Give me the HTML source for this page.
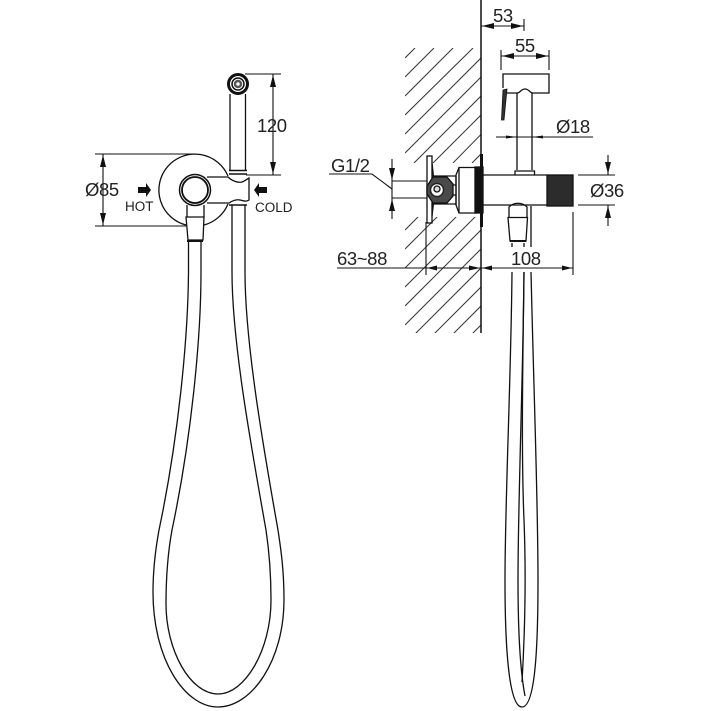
<!DOCTYPE html>
<html><head><meta charset="utf-8"><style>
html,body{margin:0;padding:0;background:#fff}
svg{display:block}
text{font-family:"Liberation Sans",sans-serif;fill:#222;font-size:18.500px;letter-spacing:-0.400px}
.s{font-size:13.500px;letter-spacing:0}
</style></head><body>
<svg width="711" height="711" viewBox="0 0 711 711" xmlns="http://www.w3.org/2000/svg">
<defs>
<clipPath id="h1"><rect x="405" y="48" width="76" height="115"/></clipPath>
<clipPath id="h2"><rect x="405" y="217" width="76" height="116"/></clipPath>
</defs>
<!-- hatch -->
<g stroke="#333" stroke-width="1" fill="none">
<g clip-path="url(#h1)">
<path d="M405 58L415 48M405 77L434 48M405 96L453 48M405 115L473 48M405 134L491 48M405 153L500 58M414 163L500 77M433 163L500 96M453 163L500 115M472 163L500 135"/>
</g>
<g clip-path="url(#h2)">
<path d="M405 230L425 210M405 249L445 209M405 268L465 208M405 287L485 207M405 306L500 211M405 325L500 230M405 344L500 249M417 351L500 268M436 351L500 287M455 351L500 306M473 351L500 325"/>
</g>
</g>
<g fill="none" stroke="#111" stroke-width="1.300">
<!-- left view -->
<circle cx="238" cy="84" r="9.500" stroke-width="3"/>
<circle cx="238" cy="84" r="6" stroke-width="1.500"/>
<circle cx="238" cy="84" r="3" stroke-width="2.500" stroke="#555"/>
<path d="M230 94V170M245.500 94V170"/>
<path d="M229 170.500H247M229 174H247" stroke-width="1.500"/>
<path d="M228 176A36 36 0 1 0 186 225"/>
<path d="M228 204A36 36 0 0 1 204 225"/>
<circle cx="195" cy="190" r="15.500" stroke-width="1.500"/>
<circle cx="195" cy="190" r="13" stroke-width="1.800"/>
<path d="M207 177H228C232 181 238 183 242 182C245 181 247 179 249 178V200C246 202 244 201 240 200C236 199 232 201 229 203H207"/>
<path d="M229 205H247" stroke-width="1.500"/>
<path d="M186 217H204L203 240H188Z"/>
<path d="M187 241H203" stroke-width="2"/>
<path d="M187 205V217M204 205V217"/>
<!-- hose left view -->
<path d="M188.500 241V272C188 340 178 440 159 530C155 552 153 572 153 592C153 660 185 707 218 707C252 707 284 660 284 600C284 570 281 550 278 530C262 440 245 340 245 272V205"/>
<path d="M201 241V272C201 340 191 440 172 530C168 552 166 580 166 604C166 650 190 694 218 694C245 694 271 650 271 600C271 575 269 550 266 530C250 440 232 340 232 272V205"/>
<!-- right view -->
<path d="M481 0V333" stroke-width="1.500"/>
<path d="M503 88V74H549V93H533C530 93 529 89 525 89C521 89 520 93 517 93H506"/>
<path d="M503 90L507 89L504 120H501.500Z" fill="#333" stroke-width="0.800"/>
<path d="M517 93V170M532 93V170"/>
<path d="M515 175V171H534.500V175"/>
<path d="M483 175H547M483 205H547"/>
<rect x="547" y="175" width="26" height="31" fill="#2c2c2c" stroke="#111"/>
<path d="M509 217V207C514 202 522 202 527 207V217"/>
<path d="M508 217.500H527.500L526 241H510Z"/>
<path d="M510 241H526" stroke-width="2"/>
<path d="M531 206V247M512 243V247M524 243V247"/>
<!-- hose right view -->
<path d="M512 272C511 380 505 500 505 580C505 640 508 707 522 707C536 707 538 640 538 580C538 500 534 400 531 272"/>
<path d="M524 272C523 380 518 500 518 580C518 630 520 670 525 696"/>
<path d="M524 272C523 350 521 450 524 520C526 570 525 630 522 682"/>
<!-- valve -->
<rect x="427" y="156" width="5" height="67"/>
<path d="M432 163L433.500 177M432 216L433.500 203"/>
<path d="M432 176H456M432 204H456"/>
<path d="M427 186L433 177H447L453 184V196L447 203H433L427 194Z" fill="#4a4a4a"/>
<circle cx="437" cy="190" r="6.500" fill="#fff" stroke="#222" stroke-width="1.500"/>
<circle cx="437" cy="189" r="3" fill="#ddd"/>
<path d="M453 185H456M453 195H456M456 176V205"/>
<path d="M456 175L459 167.500H476V213H459L456 205Z"/>
<path d="M459 167.500V213"/>
<rect x="475" y="167" width="8" height="46" fill="#111"/>
<path d="M481.500 154V227" stroke-width="3"/>
<!-- dimensions -->
<g stroke-width="1.100">
<path d="M95 154H195M95 226H186M103 154V226"/>
<path d="M245 74H281M246 175H281M273 74V175"/>
<path d="M481 26H524M524 19V31"/>
<path d="M501 50V70M549 50V70M501 56H549"/>
<path d="M496 137H593"/>
<path d="M578 175H615M578 205H615M608 155V175M608 205V226"/>
<path d="M329 174H372L392 189"/>
<path d="M392 181H427M392 198H427M392 159V219"/>
<path d="M337 268H573M426 222V275M573 212V275"/>
</g>
</g>
<!-- arrowheads -->
<g fill="#111">
<path d="M103 155L100 167H106ZM103 225L100 213H106Z"/>
<path d="M273 75L270 87H276ZM273 174L270 162H276Z"/>
<path d="M482 26L494 23V29ZM523 26L511 23V29Z"/>
<path d="M502 56L514 53V59ZM548 56L536 53V59Z"/>
<path d="M506 135.500L517 137L506 138.500ZM543 135.500L532 137L543 138.500Z"/>
<path d="M608 174L605 162H611ZM608 206L605 218H611Z"/>
<path d="M392 180L389 168H395ZM392 199L389 211H395Z"/>
<path d="M427 268L437 265.500V270.500ZM480 268L469 265.500V270.500ZM482 268L492 265.500V270.500ZM572 268L562 265.500V270.500Z"/>
<path d="M138 187H146V183L151 190L146 197V193H138Z"/>
<path d="M267 187H259V183L254 190L259 197V193H267Z"/>
</g>
<!-- labels -->
<text x="85" y="196">Ø85</text>
<text x="257" y="132">120</text>
<text class="s" x="125" y="211">HOT</text>
<text class="s" x="255" y="212">COLD</text>
<text x="493" y="22">53</text>
<text x="515" y="52">55</text>
<text x="556" y="133">Ø18</text>
<text x="590" y="197">Ø36</text>
<text x="331" y="172">G1/2</text>
<text x="337" y="265">63~88</text>
<text x="511" y="265">108</text>
</svg>
</body></html>
